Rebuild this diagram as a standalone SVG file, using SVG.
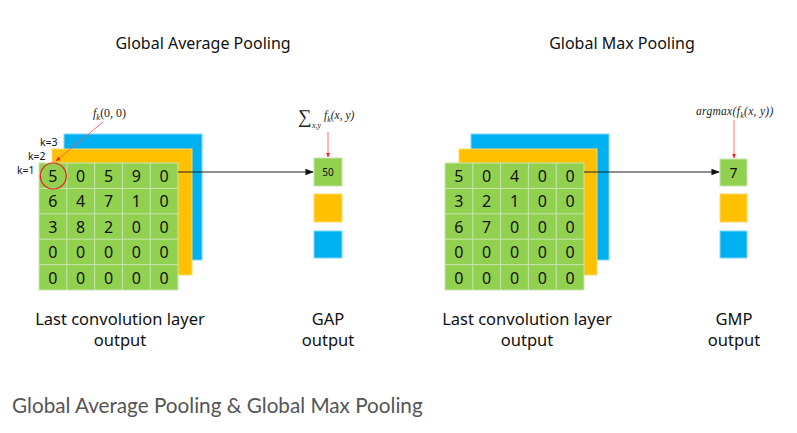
<svg xmlns="http://www.w3.org/2000/svg" width="797" height="433" viewBox="0 0 797 433">
<defs>
<style>
.t{font-family:"Noto Sans","Open Sans","Liberation Sans",sans-serif;fill:#111}
.title{font-size:16px;text-anchor:middle}
.lbl{font-size:16.5px;text-anchor:middle}
.num{font-size:16px;text-anchor:middle;dominant-baseline:central}
.k{font-size:10.5px}
.math{font-family:"Liberation Serif","DejaVu Serif",serif;font-style:italic;fill:#222}
.green{fill:#92d050;stroke:#c8e6b0;stroke-width:1}
.yellow{fill:#ffc000;stroke:#ffd966;stroke-width:1}
.blue{fill:#00b0f0;stroke:#7fd7f7;stroke-width:1}
.grid line{stroke:#c8e6b0;stroke-width:1}
.red{stroke:#ff4d4d;stroke-width:0.8;fill:none}
.blk{stroke:#222;stroke-width:1.2;fill:none}
</style>
<marker id="ah" viewBox="0 0 10 10" refX="9" refY="5" markerWidth="7" markerHeight="7" orient="auto"><path d="M0,1 L10,5 L0,9 z" fill="#111"/></marker>
<marker id="rh" viewBox="0 0 10 10" refX="9" refY="5" markerWidth="6" markerHeight="6" orient="auto"><path d="M0,1 L10,5 L0,9 z" fill="#ff1a1a"/></marker>
</defs>
<rect width="797" height="433" fill="#fff"/>

<text class="t title" x="203" y="49">Global Average Pooling</text>
<text class="t title" x="622" y="49">Global Max Pooling</text>

<g id="gap-input">
<rect class="blue" x="64" y="134" width="138" height="126"/>
<rect class="yellow" x="52" y="149" width="140" height="126"/>
<rect class="green" x="39" y="163" width="139" height="127"/>
<g class="grid">
<line x1="66.8" y1="163" x2="66.8" y2="290"/><line x1="94.6" y1="163" x2="94.6" y2="290"/><line x1="122.4" y1="163" x2="122.4" y2="290"/><line x1="150.2" y1="163" x2="150.2" y2="290"/>
<line x1="39" y1="188.4" x2="178" y2="188.4"/><line x1="39" y1="213.8" x2="178" y2="213.8"/><line x1="39" y1="239.2" x2="178" y2="239.2"/><line x1="39" y1="264.6" x2="178" y2="264.6"/>
</g>
<g class="t num">
<text x="52.9" y="176">5</text><text x="80.7" y="176">0</text><text x="108.5" y="176">5</text><text x="136.3" y="176">9</text><text x="164.1" y="176">0</text>
<text x="52.9" y="201.4">6</text><text x="80.7" y="201.4">4</text><text x="108.5" y="201.4">7</text><text x="136.3" y="201.4">1</text><text x="164.1" y="201.4">0</text>
<text x="52.9" y="226.8">3</text><text x="80.7" y="226.8">8</text><text x="108.5" y="226.8">2</text><text x="136.3" y="226.8">0</text><text x="164.1" y="226.8">0</text>
<text x="52.9" y="252.2">0</text><text x="80.7" y="252.2">0</text><text x="108.5" y="252.2">0</text><text x="136.3" y="252.2">0</text><text x="164.1" y="252.2">0</text>
<text x="52.9" y="277.6">0</text><text x="80.7" y="277.6">0</text><text x="108.5" y="277.6">0</text><text x="136.3" y="277.6">0</text><text x="164.1" y="277.6">0</text>
</g>
<text class="t k" x="40" y="146">k=3</text>
<text class="t k" x="28" y="160">k=2</text>
<text class="t k" x="17" y="174">k=1</text>
<circle cx="53.3" cy="176" r="13" fill="none" stroke="#e8231f" stroke-width="1.2"/>
<text class="math" x="93" y="117" font-size="12">f<tspan font-size="8.5" dy="3">k</tspan><tspan dy="-3" font-style="normal">(0, 0)</tspan></text>
</g>

<g id="gap-output">
<rect class="green" x="314" y="158" width="28" height="28"/>
<text class="t" x="328" y="176" font-size="10" text-anchor="middle">50</text>
<rect class="yellow" x="314" y="194" width="28" height="28"/>
<rect class="blue" x="314" y="231" width="28" height="27"/>
<text class="math" x="298" y="123" font-size="19" font-style="normal">∑</text>
<text class="math" x="312" y="128" font-size="8">x,y</text>
<text class="math" x="324" y="119" font-size="11.5">f<tspan font-size="8" dy="3">k</tspan><tspan dy="-3">(x, y)</tspan></text>
</g>

<g id="gmp-input">
<rect class="blue" x="471" y="134" width="138" height="126"/>
<rect class="yellow" x="459" y="149" width="138" height="126"/>
<rect class="green" x="445" y="163" width="139" height="127"/>
<g class="grid">
<line x1="472.8" y1="163" x2="472.8" y2="290"/><line x1="500.6" y1="163" x2="500.6" y2="290"/><line x1="528.4" y1="163" x2="528.4" y2="290"/><line x1="556.2" y1="163" x2="556.2" y2="290"/>
<line x1="445" y1="188.4" x2="584" y2="188.4"/><line x1="445" y1="213.8" x2="584" y2="213.8"/><line x1="445" y1="239.2" x2="584" y2="239.2"/><line x1="445" y1="264.6" x2="584" y2="264.6"/>
</g>
<g class="t num">
<text x="458.9" y="176">5</text><text x="486.7" y="176">0</text><text x="514.5" y="176">4</text><text x="542.3" y="176">0</text><text x="570.1" y="176">0</text>
<text x="458.9" y="201.4">3</text><text x="486.7" y="201.4">2</text><text x="514.5" y="201.4">1</text><text x="542.3" y="201.4">0</text><text x="570.1" y="201.4">0</text>
<text x="458.9" y="226.8">6</text><text x="486.7" y="226.8">7</text><text x="514.5" y="226.8">0</text><text x="542.3" y="226.8">0</text><text x="570.1" y="226.8">0</text>
<text x="458.9" y="252.2">0</text><text x="486.7" y="252.2">0</text><text x="514.5" y="252.2">0</text><text x="542.3" y="252.2">0</text><text x="570.1" y="252.2">0</text>
<text x="458.9" y="277.6">0</text><text x="486.7" y="277.6">0</text><text x="514.5" y="277.6">0</text><text x="542.3" y="277.6">0</text><text x="570.1" y="277.6">0</text>
</g>
</g>

<g id="gmp-output">
<rect class="green" x="720" y="159" width="27" height="27"/>
<text class="t" x="733.5" y="178" font-size="14" text-anchor="middle">7</text>
<rect class="yellow" x="720" y="194" width="27" height="28"/>
<rect class="blue" x="720" y="231" width="27" height="27"/>
<text class="math" x="696" y="115" font-size="11.5" letter-spacing="0.3">argmax(f<tspan font-size="8" dy="2.5">k</tspan><tspan dy="-2.5">(x, y))</tspan></text>
</g>

<g id="connectors">
<line class="blk" x1="178" y1="172" x2="313" y2="172" marker-end="url(#ah)"/>
<line class="blk" x1="584" y1="172" x2="719" y2="172" marker-end="url(#ah)"/>
<line class="red" x1="103" y1="122" x2="56" y2="161" marker-end="url(#rh)"/>
<line class="red" x1="328" y1="132" x2="328" y2="157" marker-end="url(#rh)"/>
<line class="red" x1="734" y1="120" x2="734" y2="158" marker-end="url(#rh)"/>
</g>

<g id="labels">
<text class="t lbl" x="120" y="325">Last convolution layer</text>
<text class="t lbl" x="120" y="346">output</text>
<text class="t lbl" x="328" y="325">GAP</text>
<text class="t lbl" x="328" y="346">output</text>
<text class="t lbl" x="527" y="325">Last convolution layer</text>
<text class="t lbl" x="527" y="346">output</text>
<text class="t lbl" x="734" y="325">GMP</text>
<text class="t lbl" x="734" y="346">output</text>
</g>

<text x="12" y="413" font-family="Lato, 'Open Sans', sans-serif" font-size="20.7" fill="#555">Global Average Pooling &amp; Global Max Pooling</text>
</svg>
